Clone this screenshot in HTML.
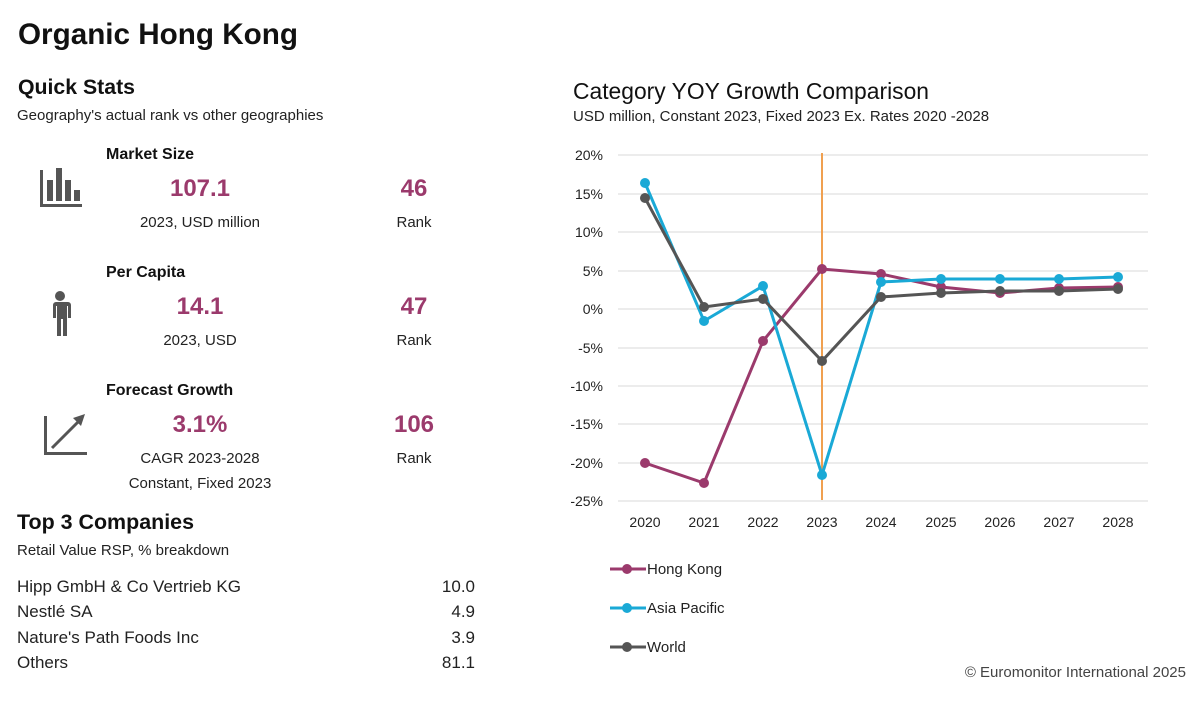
<!DOCTYPE html>
<html><head><meta charset="utf-8"><style>
html,body{margin:0;padding:0;background:#fff}
svg{display:block;font-family:"Liberation Sans",sans-serif}
</style></head><body>
<svg width="1200" height="706" viewBox="0 0 1200 706" xmlns="http://www.w3.org/2000/svg">
<text x="18" y="44" font-size="30" font-weight="bold" fill="#111" textLength="280" lengthAdjust="spacingAndGlyphs">Organic Hong Kong</text>
<text x="18" y="94" font-size="21" font-weight="bold" fill="#111" textLength="117" lengthAdjust="spacingAndGlyphs">Quick Stats</text>
<text x="17" y="120" font-size="15" fill="#222">Geography's actual rank vs other geographies</text>

<g fill="#555">
<rect x="40" y="170" width="3" height="37"/><rect x="40" y="204" width="42" height="3"/>
<rect x="47" y="180" width="6" height="21"/><rect x="56" y="168" width="6" height="33"/><rect x="65" y="180" width="6" height="21"/><rect x="74" y="190" width="6" height="11"/>
<circle cx="60" cy="296" r="5"/>
<path d="M52 302 h16 a3 3 0 0 1 3 3 v13 h-3 v-12 h-1 v30 h-4 v-17 h-2 v17 h-4 v-30 h-1 v12 h-3 v-13 a3 3 0 0 1 3 -3z"/>
<rect x="44" y="416" width="3" height="39"/><rect x="44" y="452" width="43" height="3"/>
</g>
<path d="M52 448 L82 418" stroke="#555" stroke-width="3"/><path d="M85 414 L73 418 L81 426Z" fill="#555"/>

<g font-size="16" fill="#111" font-weight="bold">
<text x="106" y="159">Market Size</text><text x="106" y="277">Per Capita</text><text x="106" y="395">Forecast Growth</text></g>
<g font-size="24" fill="#9b3a6c" font-weight="bold" text-anchor="middle">
<text x="200" y="196">107.1</text><text x="414" y="196">46</text>
<text x="200" y="314">14.1</text><text x="414" y="314">47</text>
<text x="200" y="432">3.1%</text><text x="414" y="432">106</text></g>
<g font-size="15" fill="#222" text-anchor="middle">
<text x="200" y="227">2023, USD million</text><text x="414" y="227">Rank</text>
<text x="200" y="345">2023,  USD</text><text x="414" y="345">Rank</text>
<text x="200" y="463">CAGR 2023-2028</text><text x="414" y="463">Rank</text>
<text x="200" y="488">Constant, Fixed 2023</text></g>

<text x="17" y="529" font-size="21" font-weight="bold" fill="#111" textLength="177" lengthAdjust="spacingAndGlyphs">Top 3 Companies</text>
<text x="17" y="555" font-size="15" fill="#222">Retail Value RSP, % breakdown</text>
<g font-size="17" fill="#222">
<text x="17" y="592">Hipp GmbH &amp; Co Vertrieb KG</text><text x="17" y="617">Nestlé SA</text>
<text x="17" y="643">Nature's Path Foods Inc</text><text x="17" y="668">Others</text></g>
<g font-size="17" fill="#222" text-anchor="end">
<text x="475" y="592">10.0</text><text x="475" y="617">4.9</text><text x="475" y="643">3.9</text><text x="475" y="668">81.1</text></g>

<text x="573" y="99" font-size="23" fill="#111" textLength="356" lengthAdjust="spacingAndGlyphs">Category YOY Growth Comparison</text>
<text x="573" y="121" font-size="15" fill="#222">USD million, Constant 2023, Fixed 2023 Ex. Rates 2020   -2028</text>

<g stroke="#d9d9d9" stroke-width="1">
<line x1="618" x2="1148" y1="155" y2="155"/><line x1="618" x2="1148" y1="194" y2="194"/><line x1="618" x2="1148" y1="232" y2="232"/><line x1="618" x2="1148" y1="271" y2="271"/><line x1="618" x2="1148" y1="309" y2="309"/><line x1="618" x2="1148" y1="348" y2="348"/><line x1="618" x2="1148" y1="386" y2="386"/><line x1="618" x2="1148" y1="424" y2="424"/><line x1="618" x2="1148" y1="463" y2="463"/><line x1="618" x2="1148" y1="501" y2="501"/></g>
<g font-size="14" fill="#222" text-anchor="end">
<text x="603" y="160">20%</text><text x="603" y="199">15%</text><text x="603" y="237">10%</text><text x="603" y="276">5%</text><text x="603" y="314">0%</text><text x="603" y="353">-5%</text><text x="603" y="391">-10%</text><text x="603" y="429">-15%</text><text x="603" y="468">-20%</text><text x="603" y="506">-25%</text></g>
<g font-size="14" fill="#222" text-anchor="middle">
<text x="645" y="527">2020</text><text x="704" y="527">2021</text><text x="763" y="527">2022</text><text x="822" y="527">2023</text><text x="881" y="527">2024</text><text x="941" y="527">2025</text><text x="1000" y="527">2026</text><text x="1059" y="527">2027</text><text x="1118" y="527">2028</text></g>
<line x1="822" x2="822" y1="153" y2="500" stroke="#f0a050" stroke-width="2"/>

<g fill="none" stroke-width="3">
<polyline stroke="#9b3a6c" points="645,463 704,483 763,341 822,269 881,274 941,287 1000,293 1059,288 1118,287"/>
<polyline stroke="#1aa9d6" points="645,183 704,321 763,286 822,475 881,282 941,279 1000,279 1059,279 1118,277"/>
<polyline stroke="#555" points="645,198 704,307 763,299 822,361 881,297 941,293 1000,291 1059,291 1118,289"/></g>
<g fill="#9b3a6c"><circle cx="645" cy="463" r="5"/><circle cx="704" cy="483" r="5"/><circle cx="763" cy="341" r="5"/><circle cx="822" cy="269" r="5"/><circle cx="881" cy="274" r="5"/><circle cx="941" cy="287" r="5"/><circle cx="1000" cy="293" r="5"/><circle cx="1059" cy="288" r="5"/><circle cx="1118" cy="287" r="5"/></g>
<g fill="#1aa9d6"><circle cx="645" cy="183" r="5"/><circle cx="704" cy="321" r="5"/><circle cx="763" cy="286" r="5"/><circle cx="822" cy="475" r="5"/><circle cx="881" cy="282" r="5"/><circle cx="941" cy="279" r="5"/><circle cx="1000" cy="279" r="5"/><circle cx="1059" cy="279" r="5"/><circle cx="1118" cy="277" r="5"/></g>
<g fill="#555"><circle cx="645" cy="198" r="5"/><circle cx="704" cy="307" r="5"/><circle cx="763" cy="299" r="5"/><circle cx="822" cy="361" r="5"/><circle cx="881" cy="297" r="5"/><circle cx="941" cy="293" r="5"/><circle cx="1000" cy="291" r="5"/><circle cx="1059" cy="291" r="5"/><circle cx="1118" cy="289" r="5"/></g>

<g stroke-width="3"><line x1="610" x2="646" y1="569" y2="569" stroke="#9b3a6c"/><line x1="610" x2="646" y1="608" y2="608" stroke="#1aa9d6"/><line x1="610" x2="646" y1="647" y2="647" stroke="#555"/></g>
<circle cx="627" cy="569" r="5" fill="#9b3a6c"/><circle cx="627" cy="608" r="5" fill="#1aa9d6"/><circle cx="627" cy="647" r="5" fill="#555"/>
<g font-size="15" fill="#222"><text x="647" y="574">Hong Kong</text><text x="647" y="613">Asia Pacific</text><text x="647" y="652">World</text></g>
<text x="1186" y="677" font-size="15" fill="#444" text-anchor="end">© Euromonitor International 2025</text>
</svg>
</body></html>
